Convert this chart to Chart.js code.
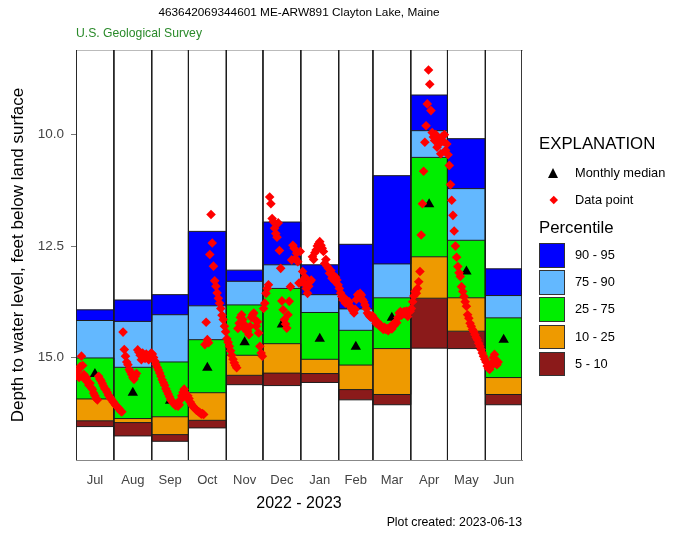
<!DOCTYPE html>
<html>
<head>
<meta charset="utf-8">
<script src="https://cdn.jsdelivr.net/npm/chart.js@4"></script>
<style>
body { margin: 0; background: #fff; font-family: "Liberation Sans", Arial, sans-serif; }
#wrap { position: relative; width: 678px; height: 533px; }
#wrap canvas { position: absolute; left: 0; top: 0; }
.lbl { position: absolute; white-space: nowrap; color: #000; line-height: 1; }
</style>
</head>
<body>
<div id="wrap">
  <canvas id="gwChart" width="678" height="533"></canvas>
  <div class="lbl" style="left:0;width:598px;text-align:center;top:7px;font-size:11.8px;">463642069344601 ME-ARW891 Clayton Lake, Maine</div>
  <div class="lbl" style="left:76px;top:27px;font-size:12.2px;color:#2a8a2a;">U.S. Geological Survey</div>
  <div class="lbl" style="right:156px;top:516px;font-size:12.3px;">Plot created: 2023-06-13</div>
  <div id="legend"></div>
</div>
<script>
// water year Jul 2022 - Jun 2023
const months = ['Jul', 'Aug', 'Sep', 'Oct', 'Nov', 'Dec', 'Jan', 'Feb', 'Mar', 'Apr', 'May', 'Jun'];
const monthDays = [31, 31, 30, 31, 30, 31, 31, 28, 31, 30, 31, 30];

// monthly percentiles, feet below land surface
const p95 = [13.93, 13.71, 13.59, 12.17, 13.04, 11.96, 12.92, 12.46, 10.92, 9.11, 10.09, 13.01];
const p90 = [14.17, 14.19, 14.04, 13.84, 13.29, 12.92, 13.59, 13.91, 12.90, 9.91, 11.21, 13.61];
const p75 = [15.01, 15.22, 15.10, 14.60, 13.82, 13.45, 13.99, 14.39, 13.66, 10.51, 12.37, 14.11];
const p25 = [15.93, 16.37, 16.33, 15.79, 14.95, 14.69, 15.04, 15.17, 14.80, 12.74, 13.66, 15.45];
const p10 = [16.42, 16.46, 16.73, 16.41, 15.40, 15.35, 15.36, 15.72, 15.83, 13.67, 14.41, 15.83];
const p5 = [16.55, 16.76, 16.88, 16.58, 15.61, 15.63, 15.56, 15.95, 16.06, 14.79, 14.80, 16.06];
const medians = [15.37, 15.79, 15.97, 15.23, 14.66, 14.26, 14.58, 14.76, 14.11, 11.56, 13.07, 14.60];

// daily readings from 2022-07-01
const obsLevel = [
  15.40, 15.30, 15.45, 15.20, 14.97, 15.18, 15.38, 15.50, 15.45, 15.55, 15.62, 15.58, 15.68, 15.72, 15.80, 15.86,
  15.92, 15.95, 15.42, 15.48, 15.52, 15.58, 15.64, 15.70, 15.72, 15.78, 15.84, 15.88, 15.92, 15.96, 16.00,
  16.03, 16.07, 16.10, 16.13, 16.16, 16.20, 16.22, 14.43, 14.82, 14.97, 15.10, 15.16, 15.27, 15.32, 15.38, 15.45,
  15.49, 15.42, 15.36, 14.83, 14.88, 14.95, 15.05, 14.90, 14.97, 15.02, 14.92, 14.98, 15.05, 14.95, 14.90,
  14.92, 15.00, 15.08, 15.15, 15.22, 15.28, 15.35, 15.42, 15.50, 15.56, 15.62, 15.70, 15.76, 15.82, 15.88,
  15.94, 15.98, 16.02, 16.05, 16.08, 16.04, 16.09, 16.06, 15.95, 15.86, 15.78, 15.71, 15.80, 15.90, 15.86,
  15.92, 16.00, 16.05, 16.09, 16.12, 16.15, 16.18, 16.20, 16.22, 16.24, 16.27, 16.26, 16.28, 14.71, 14.21, 14.60,
  14.67, 12.69, 11.79, 12.43, 12.95, 13.28, 13.40, 13.55, 13.67, 13.78, 13.90, 14.05, 14.15, 14.30, 14.42,
  14.58, 14.66, 14.75, 14.85, 14.95, 15.04, 15.12, 15.18, 15.23, 14.35, 14.23, 14.10, 14.04, 14.15, 14.34,
  14.28, 14.40, 14.41, 14.49, 14.30, 14.10, 14.04, 14.00, 14.15, 14.30, 14.20, 14.45, 14.75, 14.90, 14.97,
  13.90, 13.78, 13.56, 13.45, 13.37, 11.40, 11.55, 11.88, 11.95, 12.10, 12.22, 12.30, 11.98, 12.60, 13.00, 13.73,
  13.93, 14.15, 14.25, 14.34, 14.04, 13.74, 13.41, 12.81, 12.48, 12.55, 12.78, 12.66, 12.85, 13.33, 12.62,
  13.30, 13.07, 13.33, 13.20, 13.45, 13.56, 13.40, 13.30, 13.26, 12.74, 12.80, 12.65, 12.59, 12.50, 12.45, 12.40,
  12.48, 12.55, 12.62, 12.89, 12.80, 12.95, 13.00, 13.11, 13.05, 13.22, 13.15, 13.28, 13.20, 13.26, 13.37,
  13.45, 13.55, 13.63, 13.71, 13.66, 13.78, 13.72, 13.80, 13.75, 13.85, 13.90, 13.95, 14.00, 13.92, 13.70, 13.59,
  13.62, 13.56, 13.60, 13.70, 13.75, 13.82, 13.90, 14.00, 14.04, 14.08, 14.10, 14.06,
  14.11, 14.15, 14.23, 14.20, 14.26, 14.30, 14.28, 14.33, 14.37, 14.32, 14.37, 14.35, 14.40, 14.34, 14.30, 14.36,
  14.26, 14.28, 14.20, 14.22, 14.10, 14.00, 13.97, 14.05, 14.00, 13.97, 14.02, 13.96, 14.08, 13.98, 13.96,
  13.90, 13.75, 13.62, 13.52, 13.56, 13.45, 13.30, 13.07, 12.25, 11.55, 10.82, 10.17, 9.80, 9.31, 8.55, 8.87,
  9.46, 9.95, 10.05, 10.13, 10.00, 10.28, 10.10, 10.20, 10.43, 10.05, 10.15, 10.00, 10.35, 10.21,
  10.45, 10.69, 11.12, 11.47, 11.81, 12.16, 12.50, 12.75, 12.96, 13.10, 13.18, 13.41, 13.52, 13.63, 13.75, 13.85,
  14.04, 14.12, 14.23, 14.30, 14.37, 14.42, 14.49, 14.55, 14.60, 14.68, 14.75, 14.82, 14.90, 14.97, 15.04,
  15.10, 15.19, 15.24, 15.27, 15.20, 15.12, 15.00, 14.93, 15.05, 15.16, 15.10
];

const yTicks = [10.0, 12.5, 15.0];
const bandLabels = ['90 - 95', '75 - 90', '25 - 75', '10 - 25', '5 - 10'];
const bandColors = ['#0000ff', '#63b8ff', '#00ee00', '#ee9a00', '#8b1a1a'];

const yTop = 8.1, yBottom = 17.3;

const monthStart = [];
let total = 0;
monthDays.forEach(d => { monthStart.push(total); total += d; });
const yearDays = total;
const monthMid = monthStart.map((s, i) => s + monthDays[i] / 2);

function stepLine(vals) {
    const pts = vals.map((v, i) => ({ x: monthStart[i], y: v }));
    pts.push({ x: yearDays, y: vals[vals.length - 1] });
    return pts;
}

const dividerPts = [];
monthStart.concat([yearDays]).forEach(b => {
    dividerPts.push({ x: b, y: yTop }, { x: b, y: yBottom }, { x: b, y: null });
});

const bandSets = [p95, p90, p75, p25, p10, p5].map((vals, i) => ({
    data: stepLine(vals),
    stepped: true,
    borderColor: '#1c1c1c',
    borderWidth: 1,
    pointRadius: 0,
    fill: i === 0 ? false : '-1',
    backgroundColor: i === 0 ? 'rgba(0,0,0,0)' : bandColors[i - 1],
}));

Chart.defaults.font.family = '"Liberation Sans", Arial, sans-serif';

const ctx = document.getElementById('gwChart').getContext('2d');
const gwChart = new Chart(ctx, {
    type: 'line',
    data: {
        datasets: [
            {
                label: 'Data point',
                data: obsLevel.map((v, i) => ({ x: i + 0.5, y: v })),
                showLine: false,
                pointStyle: 'rectRot',
                pointRadius: 4.8,
                pointBackgroundColor: '#ff0000',
                pointBorderWidth: 0,
            },
            {
                label: 'Monthly median',
                data: medians.map((v, i) => ({ x: monthMid[i], y: v })),
                showLine: false,
                pointStyle: 'triangle',
                pointRadius: 6,
                pointBackgroundColor: '#000',
                pointBorderWidth: 0,
            },
            {
                label: 'dividers',
                data: dividerPts,
                borderColor: '#1c1c1c',
                borderWidth: 1,
                pointRadius: 0,
                spanGaps: false,
            },
            ...bandSets,
        ],
    },
    options: {
        responsive: false,
        animation: false,
        events: [],
        layout: { padding: { left: 8, right: 156, top: 50, bottom: 0 } },
        plugins: {
            legend: { display: false },
            tooltip: { enabled: false },
        },
        scales: {
            x: {
                type: 'linear',
                position: 'bottom',
                min: 0,
                max: yearDays,
                afterBuildTicks: s => { s.ticks = monthMid.map(v => ({ value: v })); },
                afterFit: s => { s.height = 73; },
                ticks: {
                    callback: (v, i) => months[i],
                    autoSkip: false,
                    maxRotation: 0,
                    padding: 13,
                    color: '#444',
                    font: { size: 13 },
                },
                grid: { display: false, drawTicks: false },
                border: { display: true, color: '#888' },
                title: {
                    display: true,
                    text: '2022 - 2023',
                    color: '#000',
                    font: { size: 16 },
                    padding: { top: 20, bottom: 20 },
                },
            },
            xTop: {
                type: 'linear',
                position: 'top',
                min: 0,
                max: yearDays,
                afterFit: s => { s.height = 0; },
                ticks: { display: false },
                grid: { display: false, drawTicks: false },
                border: { display: true, color: '#bbb' },
            },
            y: {
                type: 'linear',
                reverse: true,
                min: yTop,
                max: yBottom,
                afterBuildTicks: s => { s.ticks = yTicks.map(v => ({ value: v })); },
                afterFit: s => { s.width = 68; },
                ticks: {
                    callback: v => v.toFixed(1),
                    color: '#444',
                    font: { size: 13.5 },
                    padding: 7,
                },
                grid: { drawOnChartArea: false, drawTicks: true, tickLength: 5, color: '#777' },
                border: { display: true, color: '#888' },
                title: {
                    display: true,
                    text: 'Depth to water level, feet below land surface',
                    color: '#000',
                    font: { size: 17 },
                    padding: 0,
                },
            },
        },
    },
});

// explanation block on the right
const legend = document.getElementById('legend');
function addText(text, left, top, size) {
    const el = document.createElement('div');
    el.className = 'lbl';
    el.style.left = left + 'px';
    el.style.top = top + 'px';
    el.style.fontSize = size + 'px';
    el.textContent = text;
    legend.appendChild(el);
}
function addBox(left, top, w, h, css) {
    const el = document.createElement('div');
    el.style.position = 'absolute';
    el.style.left = left + 'px';
    el.style.top = top + 'px';
    el.style.width = w + 'px';
    el.style.height = h + 'px';
    Object.assign(el.style, css);
    legend.appendChild(el);
}

addText('EXPLANATION', 539, 136, 16.8);
addBox(548, 168, 0, 0, {
    borderLeft: '5.5px solid transparent', borderRight: '5.5px solid transparent',
    borderBottom: '10px solid #000',
});
addText('Monthly median', 575, 167, 12.8);
addBox(551, 197, 5.5, 5.5, { background: '#ff0000', transform: 'rotate(45deg)' });
addText('Data point', 575, 194, 12.8);
addText('Percentile', 539, 220, 16.8);
bandLabels.forEach((lab, i) => {
    const top = 243 + i * 27.2;
    addBox(539, top, 24, 22.5, { background: bandColors[i], border: '1.5px solid #333' });
    addText(lab, 575, top + 6, 12.8);
});
</script>
</body>
</html>
